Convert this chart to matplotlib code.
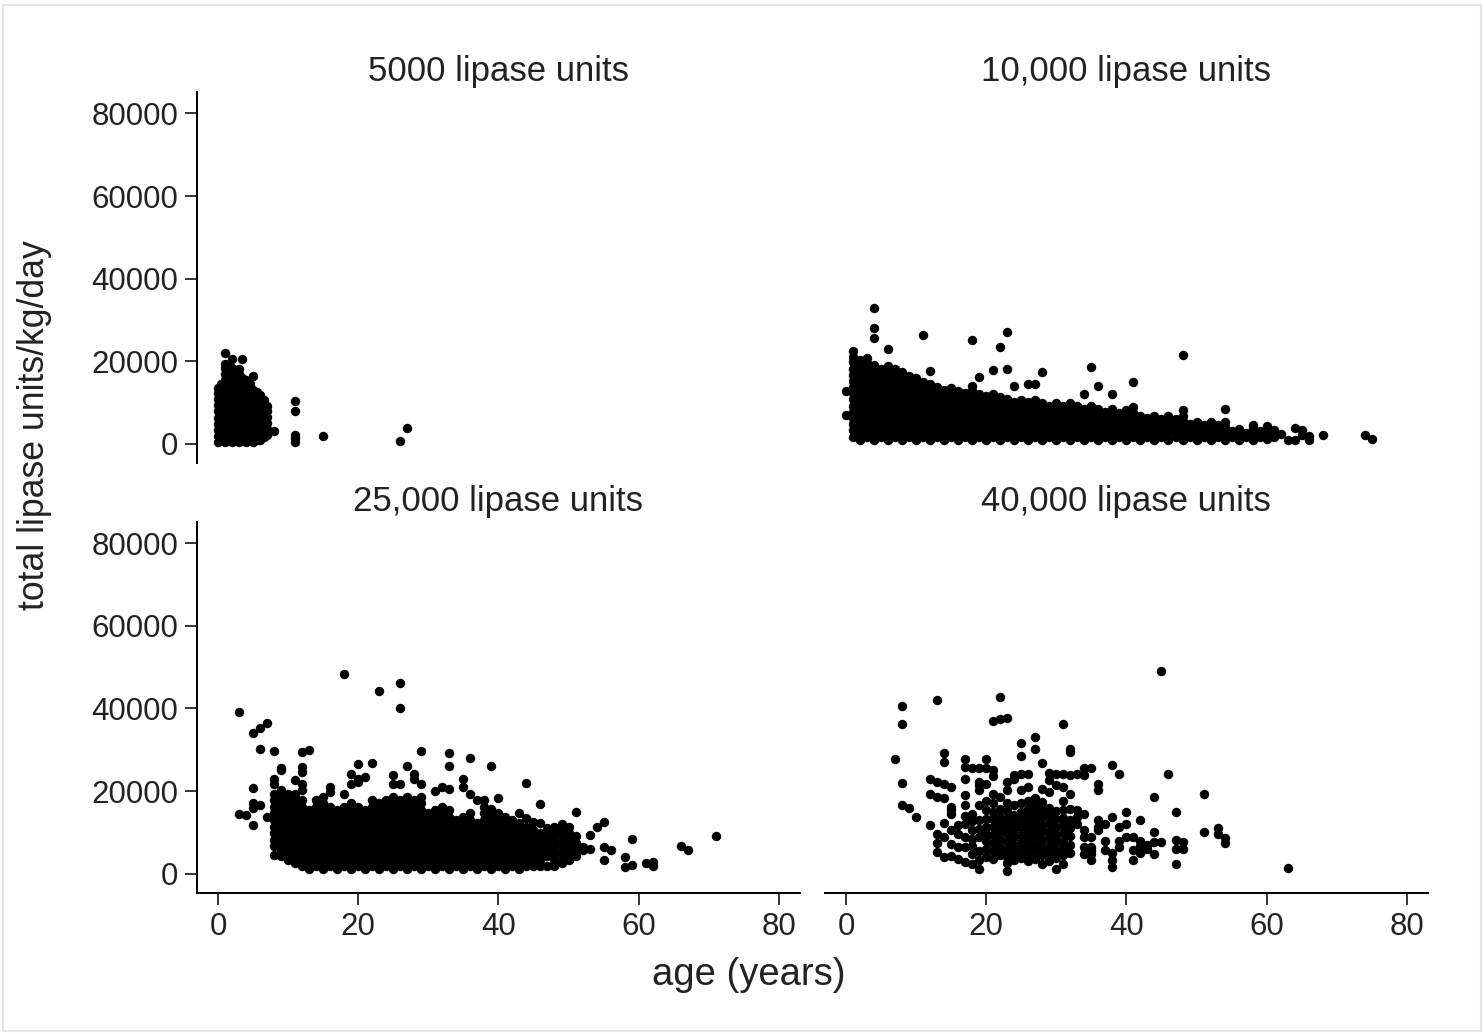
import matplotlib
matplotlib.use('Agg')
import matplotlib.pyplot as plt
from matplotlib.patches import Rectangle

plt.rcParams['font.family'] = ['Liberation Sans', 'DejaVu Sans']

# total lipase units/kg/day, in thousands, grouped by age (years)
lip5000 = {
    0: [0.3, 1.8, 3.3, 4.8, 6.3, 7.8, 9.3, 10.8, 12.3, 13.5],
    0.5: [1.0, 2.5, 4.0, 5.5, 7.0, 8.5, 10.0, 11.5, 13.0, 14.5],
    1: [0.3, 1.8, 3.3, 4.8, 6.3, 7.8, 9.3, 10.8, 12.3, 13.8, 15.3, 16.8, 18.3, 19.3, 22.0],
    1.5: [1.0, 2.5, 4.0, 5.5, 7.0, 8.5, 10.0, 11.5, 13.0, 14.5, 16.0, 17.5, 19.0],
    2: [0.3, 1.8, 3.3, 4.8, 6.3, 7.8, 9.3, 10.8, 12.3, 13.8, 15.3, 16.8, 18.3, 20.4],
    2.5: [1.0, 2.5, 4.0, 5.5, 7.0, 8.5, 10.0, 11.5, 13.0, 14.5, 16.0, 17.5],
    3: [0.3, 1.8, 3.3, 4.8, 6.3, 7.8, 9.3, 10.8, 12.3, 13.8, 15.3, 16.8, 18.0],
    3.5: [1.0, 2.5, 4.0, 5.5, 7.0, 8.5, 10.0, 11.5, 13.0, 14.5, 16.0, 20.4],
    4: [0.3, 1.8, 3.3, 4.8, 6.3, 7.8, 9.3, 10.8, 12.3, 13.8, 15.3],
    4.5: [1.0, 2.5, 4.0, 5.5, 7.0, 8.5, 10.0, 11.5, 13.0, 14.5],
    5: [0.3, 1.8, 3.3, 4.8, 6.3, 7.8, 9.3, 10.8, 12.3, 13.0, 16.5],
    5.5: [1.0, 2.5, 4.0, 5.5, 7.0, 8.5, 10.0, 11.5, 12.4],
    6: [0.8, 2.3, 3.8, 5.3, 6.8, 8.3, 9.8, 11.3, 11.9],
    6.5: [1.5, 3.0, 4.5, 6.0, 7.5, 9.0, 10.5],
    7: [2.0, 3.5, 5.0, 6.5, 8.0, 9.0],
    8: [3.0],
    11: [0.5, 1.3, 2.2, 7.8, 10.4],
    15: [1.8],
    26: [0.6],
    27: [3.7],
}

lip10000 = {
    0: [7.0, 12.7],
    1: [1.7, 3.2, 4.7, 6.2, 7.7, 9.2, 10.7, 12.2, 13.7, 15.2, 16.7, 18.2, 19.7, 21.0, 22.4],
    2: [1.0, 2.5, 4.0, 5.5, 7.0, 8.5, 10.0, 11.5, 13.0, 14.5, 16.0, 17.5, 19.0, 20.3],
    3: [1.7, 3.2, 4.7, 6.2, 7.7, 9.2, 10.7, 12.2, 13.7, 15.2, 16.7, 18.2, 19.5, 20.8],
    4: [1.0, 2.5, 4.0, 5.5, 7.0, 8.5, 10.0, 11.5, 13.0, 14.5, 16.0, 17.5, 19.0, 25.6, 28.0, 32.9],
    5: [1.7, 3.2, 4.7, 6.2, 7.7, 9.2, 10.7, 12.2, 13.7, 15.2, 16.7, 18.2],
    6: [1.0, 2.5, 4.0, 5.5, 7.0, 8.5, 10.0, 11.5, 13.0, 14.5, 16.0, 17.5, 18.8, 23.0],
    7: [1.7, 3.2, 4.7, 6.2, 7.7, 9.2, 10.7, 12.2, 13.7, 15.2, 16.7, 18.0],
    8: [1.0, 2.5, 4.0, 5.5, 7.0, 8.5, 10.0, 11.5, 13.0, 14.5, 16.0, 17.3],
    9: [1.7, 3.2, 4.7, 6.2, 7.7, 9.2, 10.7, 12.2, 13.7, 15.2, 16.5],
    10: [1.0, 2.5, 4.0, 5.5, 7.0, 8.5, 10.0, 11.5, 13.0, 14.5, 15.8],
    11: [1.7, 3.2, 4.7, 6.2, 7.7, 9.2, 10.7, 12.2, 13.7, 15.0, 26.4],
    12: [1.0, 2.5, 4.0, 5.5, 7.0, 8.5, 10.0, 11.5, 13.0, 14.5, 17.7],
    13: [1.7, 3.2, 4.7, 6.2, 7.7, 9.2, 10.7, 12.2, 13.7],
    14: [1.0, 2.5, 4.0, 5.5, 7.0, 8.5, 10.0, 11.5, 13.0],
    15: [1.7, 3.2, 4.7, 6.2, 7.7, 9.2, 10.7, 12.2, 13.5],
    16: [1.0, 2.5, 4.0, 5.5, 7.0, 8.5, 10.0, 11.5, 12.8],
    17: [1.7, 3.2, 4.7, 6.2, 7.7, 9.2, 10.7, 12.2],
    18: [1.0, 2.5, 4.0, 5.5, 7.0, 8.5, 10.0, 11.5, 12.8, 13.9, 25.2],
    19: [1.7, 3.2, 4.7, 6.2, 7.7, 9.2, 10.7, 12.0, 16.2],
    20: [1.0, 2.5, 4.0, 5.5, 7.0, 8.5, 10.0, 11.5],
    21: [1.7, 3.2, 4.7, 6.2, 7.7, 9.2, 10.7, 12.0, 17.9],
    22: [1.0, 2.5, 4.0, 5.5, 7.0, 8.5, 10.0, 11.3, 23.3],
    23: [1.7, 3.2, 4.7, 6.2, 7.7, 9.2, 10.7, 18.1, 27.1],
    24: [1.0, 2.5, 4.0, 5.5, 7.0, 8.5, 10.0, 13.9],
    25: [1.7, 3.2, 4.7, 6.2, 7.7, 9.2, 10.5],
    26: [1.0, 2.5, 4.0, 5.5, 7.0, 8.5, 10.0, 14.5],
    27: [1.7, 3.2, 4.7, 6.2, 7.7, 9.2, 10.5, 14.5],
    28: [1.0, 2.5, 4.0, 5.5, 7.0, 8.5, 9.8, 17.3],
    29: [1.7, 3.2, 4.7, 6.2, 7.7, 9.2],
    30: [1.0, 2.5, 4.0, 5.5, 7.0, 8.5, 9.8],
    31: [1.7, 3.2, 4.7, 6.2, 7.7, 9.0],
    32: [1.0, 2.5, 4.0, 5.5, 7.0, 8.5, 9.8],
    33: [1.7, 3.2, 4.7, 6.2, 7.7, 9.0],
    34: [1.0, 2.5, 4.0, 5.5, 7.0, 8.5, 12.1],
    35: [1.7, 3.2, 4.7, 6.2, 7.7, 9.0, 18.5],
    36: [1.0, 2.5, 4.0, 5.5, 7.0, 8.3, 13.9],
    37: [1.7, 3.2, 4.7, 6.2, 7.7],
    38: [1.0, 2.5, 4.0, 5.5, 7.0, 8.3, 12.1],
    39: [1.7, 3.2, 4.7, 6.2, 7.5],
    40: [1.0, 2.5, 4.0, 5.5, 7.0, 8.2],
    41: [1.7, 3.2, 4.7, 6.2, 7.5, 8.9, 14.9],
    42: [1.0, 2.5, 4.0, 5.5, 6.8],
    43: [1.7, 3.2, 4.7, 6.2],
    44: [1.0, 2.5, 4.0, 5.5, 6.8],
    45: [1.7, 3.2, 4.7, 6.0],
    46: [1.0, 2.5, 4.0, 5.5, 6.8],
    47: [1.7, 3.2, 4.7, 6.0],
    48: [1.0, 2.5, 4.0, 5.5, 6.8, 8.2, 21.4],
    49: [1.7, 3.2, 4.7],
    50: [1.0, 2.5, 4.0, 5.3],
    51: [1.7, 3.2, 4.5],
    52: [1.0, 2.5, 4.0, 5.3],
    53: [1.7, 3.2, 4.5],
    54: [1.0, 2.5, 4.0, 5.3, 8.5],
    55: [1.7, 3.0],
    56: [1.0, 2.5, 3.6],
    57: [1.7, 2.6],
    58: [1.0, 2.5, 3.8, 4.6],
    59: [1.7, 3.0],
    60: [1.2, 2.3, 4.2],
    61: [1.5, 3.2],
    62: [2.3],
    63: [1.0],
    64: [1.0, 3.8],
    65: [2.0, 3.4],
    66: [1.0, 1.8],
    68: [2.2],
    74: [2.2],
    75: [1.2],
}

lip25000 = {
    3: [14.5, 39.1],
    4: [14.1],
    5: [11.7, 16.0, 17.0, 20.7, 34.1],
    6: [16.5, 30.3, 35.3],
    7: [13.7, 36.6],
    8: [4.6, 6.6, 8.2, 9.8, 11.4, 13.0, 14.6, 16.2, 17.8, 19.4, 21.8, 23.0, 29.7],
    9: [4.2, 5.8, 7.4, 9.0, 10.6, 12.2, 13.8, 15.4, 17.0, 18.6, 20.2, 25.0, 25.5],
    10: [3.4, 5.0, 6.6, 8.2, 9.8, 11.4, 13.0, 14.6, 16.2, 17.8, 19.4],
    11: [2.6, 4.2, 5.8, 7.4, 9.0, 10.6, 12.2, 13.8, 15.4, 17.0, 18.6, 19.4, 22.6],
    12: [1.8, 3.4, 5.0, 6.6, 8.2, 9.8, 11.4, 13.0, 14.6, 16.2, 17.8, 20.2, 21.8, 24.6, 25.9, 29.5],
    13: [1.0, 2.6, 4.2, 5.8, 7.4, 9.0, 10.6, 12.2, 13.8, 15.4, 29.9],
    14: [1.8, 3.4, 5.0, 6.6, 8.2, 9.8, 11.4, 13.0, 14.6, 16.2, 17.8],
    15: [1.0, 2.6, 4.2, 5.8, 7.4, 9.0, 10.6, 12.2, 13.8, 15.4, 17.0, 18.6],
    16: [1.8, 3.4, 5.0, 6.6, 8.2, 9.8, 11.4, 13.0, 14.6, 16.2, 19.8, 20.9],
    17: [1.0, 2.6, 4.2, 5.8, 7.4, 9.0, 10.6, 12.2, 13.8, 15.4],
    18: [1.8, 3.4, 5.0, 6.6, 8.2, 9.8, 11.4, 13.0, 14.6, 16.2, 19.4, 48.4],
    19: [1.0, 2.6, 4.2, 5.8, 7.4, 9.0, 10.6, 12.2, 13.8, 15.4, 17.0, 21.8, 24.2],
    20: [1.8, 3.4, 5.0, 6.6, 8.2, 9.8, 11.4, 13.0, 14.6, 16.2, 22.2, 23.0, 26.5],
    21: [1.0, 2.6, 4.2, 5.8, 7.4, 9.0, 10.6, 12.2, 13.8, 15.4, 23.5],
    22: [1.8, 3.4, 5.0, 6.6, 8.2, 9.8, 11.4, 13.0, 14.6, 16.2, 17.8, 26.7],
    23: [1.0, 2.6, 4.2, 5.8, 7.4, 9.0, 10.6, 12.2, 13.8, 15.4, 17.0, 44.3],
    24: [1.8, 3.4, 5.0, 6.6, 8.2, 9.8, 11.4, 13.0, 14.6, 16.2, 17.8],
    25: [1.0, 2.6, 4.2, 5.8, 7.4, 9.0, 10.6, 12.2, 13.8, 15.4, 17.0, 18.6, 21.8, 23.8],
    26: [1.8, 3.4, 5.0, 6.6, 8.2, 9.8, 11.4, 13.0, 14.6, 16.2, 17.8, 21.8, 40.0, 46.1],
    27: [1.0, 2.6, 4.2, 5.8, 7.4, 9.0, 10.6, 12.2, 13.8, 15.4, 17.0, 18.6, 26.0],
    28: [1.8, 3.4, 5.0, 6.6, 8.2, 9.8, 11.4, 13.0, 14.6, 16.2, 17.8, 23.0, 24.2],
    29: [1.0, 2.6, 4.2, 5.8, 7.4, 9.0, 10.6, 12.2, 13.8, 15.4, 17.0, 18.6, 21.8, 29.7],
    30: [1.8, 3.4, 5.0, 6.6, 8.2, 9.8, 11.4, 13.0, 14.6],
    31: [1.0, 2.6, 4.2, 5.8, 7.4, 9.0, 10.6, 12.2, 13.8, 15.4, 20.0],
    32: [1.8, 3.4, 5.0, 6.6, 8.2, 9.8, 11.4, 13.0, 14.6, 16.2, 21.0],
    33: [1.0, 2.6, 4.2, 5.8, 7.4, 9.0, 10.6, 12.2, 13.8, 15.4, 20.5, 26.0, 29.1],
    34: [1.8, 3.4, 5.0, 6.6, 8.2, 9.8, 11.4, 13.0],
    35: [1.0, 2.6, 4.2, 5.8, 7.4, 9.0, 10.6, 12.2, 13.8, 21.0, 23.0],
    36: [1.8, 3.4, 5.0, 6.6, 8.2, 9.8, 11.4, 13.0, 14.6, 19.4, 28.1],
    37: [1.0, 2.6, 4.2, 5.8, 7.4, 9.0, 10.6, 12.2, 17.9],
    38: [1.8, 3.4, 5.0, 6.6, 8.2, 9.8, 11.4, 13.0, 14.6, 16.2, 17.8],
    39: [1.0, 2.6, 4.2, 5.8, 7.4, 9.0, 10.6, 12.2, 13.8, 15.7, 26.0],
    40: [1.8, 3.4, 5.0, 6.6, 8.2, 9.8, 11.4, 13.0, 14.6, 18.2],
    41: [1.0, 2.6, 4.2, 5.8, 7.4, 9.0, 10.6, 12.2, 13.8],
    42: [1.8, 3.4, 5.0, 6.6, 8.2, 9.8, 11.4, 13.0],
    43: [1.0, 2.6, 4.2, 5.8, 7.4, 9.0, 10.6, 12.2, 14.7],
    44: [1.8, 3.4, 5.0, 6.6, 8.2, 9.8, 11.4, 13.4, 22.0],
    45: [1.9, 2.6, 4.2, 5.8, 7.4, 9.0, 10.6, 12.6],
    46: [1.8, 3.4, 5.0, 6.6, 8.2, 9.8, 12.2, 16.8],
    47: [1.9, 4.2, 5.8, 7.4, 9.0, 11.0],
    48: [1.8, 3.4, 5.0, 6.6, 8.2, 9.8, 11.2],
    49: [2.6, 4.2, 5.8, 7.4, 9.0, 10.6, 12.0],
    50: [3.4, 5.0, 6.6, 8.2, 9.8, 11.3],
    51: [4.2, 5.8, 7.3, 9.0, 14.9],
    52: [5.6, 6.4],
    53: [6.0, 9.4],
    54: [11.3],
    55: [3.3, 6.4, 12.6],
    56: [5.6],
    58: [1.5, 4.0],
    59: [2.0, 8.4],
    61: [2.5],
    62: [1.9, 2.8],
    66: [6.8],
    67: [5.6],
    71: [9.0],
}

lip40000 = {
    7: [27.7],
    8: [16.5, 22.0, 36.2, 40.6],
    9: [15.8],
    10: [13.7],
    12: [11.7, 19.4, 23.0],
    13: [5.2, 7.5, 9.6, 18.6, 22.2, 42.1],
    14: [4.0, 8.8, 12.2, 18.2, 21.8, 27.1, 29.1],
    15: [4.2, 7.2, 10.6, 14.5, 15.3, 16.2, 21.0],
    16: [3.6, 6.4, 9.5, 11.8],
    17: [2.8, 6.5, 8.8, 12.1, 14.0, 16.5, 19.0, 23.0, 25.9, 27.7],
    18: [2.4, 4.8, 6.8, 8.3, 10.5, 12.8, 14.5, 25.7],
    19: [1.2, 3.2, 5.5, 8.8, 10.8, 13.0, 16.5, 20.2, 21.4, 22.2, 25.7],
    20: [4.0, 6.0, 8.0, 9.5, 11.3, 13.2, 15.3, 17.5, 21.8, 25.7, 27.7],
    21: [3.6, 5.5, 7.5, 9.4, 11.3, 13.2, 15.0, 17.0, 19.4, 23.6, 25.0, 37.0],
    22: [4.5, 6.3, 8.1, 10.0, 12.0, 13.8, 15.7, 18.6, 37.4, 42.9],
    23: [0.7, 2.6, 4.0, 5.8, 7.6, 9.5, 11.4, 13.3, 15.2, 17.2, 20.2, 22.2, 37.8],
    24: [3.2, 5.0, 6.9, 8.8, 10.7, 12.5, 14.3, 16.5, 23.0, 23.8],
    25: [3.8, 5.6, 7.5, 9.4, 11.2, 13.0, 15.0, 17.0, 20.2, 24.1, 28.5, 31.7],
    26: [3.0, 4.4, 6.3, 8.2, 10.0, 11.9, 13.7, 15.6, 17.5, 21.0, 24.2],
    27: [3.6, 5.4, 7.2, 9.0, 10.8, 12.7, 14.6, 16.4, 18.2, 30.1, 33.2],
    28: [2.4, 4.5, 6.3, 8.1, 10.0, 11.8, 13.6, 15.5, 17.4, 20.6, 26.8],
    29: [3.0, 5.0, 6.8, 8.6, 10.4, 12.2, 14.1, 16.0, 19.8, 22.6, 24.4],
    30: [1.2, 3.8, 5.7, 7.6, 9.4, 11.3, 13.2, 15.1, 21.4, 24.2],
    31: [2.4, 4.4, 6.2, 8.0, 9.8, 11.7, 13.5, 15.5, 17.5, 21.0, 24.2, 36.2],
    32: [5.0, 7.0, 9.0, 11.0, 13.0, 15.6, 19.4, 23.8, 29.5, 30.2],
    33: [12.1, 13.6, 15.3, 24.2],
    34: [4.8, 6.5, 8.8, 10.6, 14.5, 24.0, 25.5],
    35: [3.2, 4.8, 5.6, 6.5, 8.8, 25.5],
    36: [10.5, 11.3, 13.0, 20.2, 21.8],
    37: [5.6, 8.0, 12.1],
    38: [1.5, 3.2, 4.9, 13.7, 26.3],
    39: [6.5, 8.0, 11.3, 24.2],
    40: [8.8, 12.1, 14.9],
    41: [3.2, 5.6, 8.8],
    42: [4.9, 6.8, 8.0, 12.9],
    43: [5.9, 6.9],
    44: [4.8, 7.6, 10.0, 18.6],
    45: [7.6, 49.0],
    46: [24.1],
    47: [2.4, 6.0, 8.2, 14.8],
    48: [6.0, 7.7],
    51: [10.0, 19.2],
    53: [9.5, 11.1],
    54: [7.4, 8.7],
    63: [1.3],
}

titles = ['5000 lipase units', '10,000 lipase units',
          '25,000 lipase units', '40,000 lipase units']
y_ticks = [0, 20000, 40000, 60000, 80000]
x_ticks = [0, 20, 40, 60, 80]


def expand(groups):
    """age -> values (thousands) into two flat lists"""
    xs, ys = [], []
    for age, vals in groups.items():
        xs += [age] * len(vals)
        ys += [v * 1000 for v in vals]
    return xs, ys


fig = plt.figure(figsize=(14.84, 10.34), dpi=100)

# axes boxes in figure fractions (left, bottom, width, height)
boxes = [
    (0.1327, 0.5522, 0.4063, 0.3588),
    (0.5559, 0.5522, 0.4063, 0.3588),
    (0.1327, 0.1364, 0.4063, 0.3588),
    (0.5559, 0.1364, 0.4063, 0.3588),
]
panels = [lip5000, lip10000, lip25000, lip40000]

for i, (box, data, title) in enumerate(zip(boxes, panels, titles)):
    ax = fig.add_axes(box)
    xs, ys = expand(data)
    ax.plot(xs, ys, 'o', color='black', markersize=6.8, markeredgewidth=0)
    ax.set_xlim(-3, 83)
    ax.set_ylim(-4700, 85200)
    for s in ax.spines.values():
        s.set_visible(False)
    ax.tick_params(direction='out', length=8.5, width=1.1, pad=5,
                   labelsize=22.5, color='black', labelcolor='#222222')
    if i % 2 == 0:
        ax.spines['left'].set_visible(True)
        ax.spines['left'].set_linewidth(1.4)
        ax.set_yticks(y_ticks)
        ax.set_yticklabels([str(t) for t in y_ticks])
    else:
        ax.set_yticks([])
    if i >= 2:
        ax.spines['bottom'].set_visible(True)
        ax.spines['bottom'].set_linewidth(1.4)
        ax.set_xticks(x_ticks)
    else:
        ax.set_xticks([])
    ax.set_title(title, fontsize=25, pad=8, color='#222222')

fig.text(35 / 1484, 1 - 425 / 1034, 'total lipase units/kg/day',
         rotation=90, ha='center', va='center', fontsize=25.7, color='#222222')
fig.text(749 / 1484, 1 - 975 / 1034, 'age (years)',
         ha='center', va='center', fontsize=27.5, color='#222222')

# light outer frame
fig.patches.append(Rectangle((0.002, 0.003), 0.996, 0.992,
                             transform=fig.transFigure, fill=False,
                             edgecolor='#e4e4e4', linewidth=1.5))

fig.savefig('out.png', dpi=100)
